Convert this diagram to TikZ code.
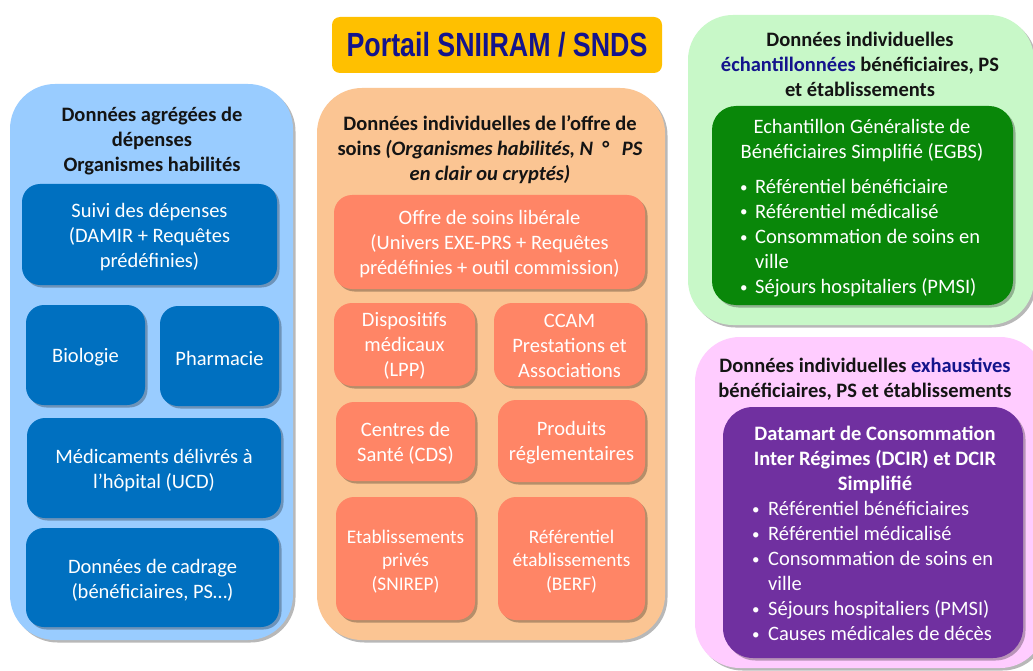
\documentclass[tikz,border=0pt]{standalone}
\usepackage{fontspec}
\setmainfont{Carlito}
\newfontfamily\titlefont[FakeStretch=0.8]{Liberation Sans}
\usetikzlibrary{shadows}
\definecolor{ltblue}{HTML}{99CCFF}
\definecolor{dkblue}{HTML}{0070C0}
\definecolor{ltorange}{HTML}{FBC593}
\definecolor{salmon}{HTML}{FF8566}
\definecolor{ltgreen}{HTML}{C8F8C8}
\definecolor{dkgreen}{HTML}{098709}
\definecolor{ltpink}{HTML}{FFCCFF}
\definecolor{purp}{HTML}{7030A0}
\definecolor{gold}{HTML}{FFC000}
\definecolor{navytxt}{HTML}{14148C}
\definecolor{hdrtxt}{HTML}{141414}
\newcommand{\bul}{\makebox[15pt][l]{\raisebox{1.2pt}{\fontsize{15}{15}\selectfont •}}}
\begin{document}
\begin{tikzpicture}[x=1pt,y=-1pt,
  font=\fontsize{20.5}{25}\selectfont,
  shad/.style={drop shadow={shadow xshift=2.5pt, shadow yshift=-2.5pt, opacity=0.28, fill=black}},
  panelbox/.style={draw=none, inner sep=0pt, rounded corners=45pt, shad},
  innerbox/.style={draw=none, inner sep=0pt, rounded corners=18pt, shad},
  bluebox/.style={innerbox, fill=dkblue},
  salmonbox/.style={innerbox, fill=salmon},
  wtxt/.style={align=center, text=white, inner sep=0pt, yshift=-3pt},
  hdr/.style={align=center, text=hdrtxt, inner sep=0pt, font=\bfseries\fontsize{20.5}{25}\selectfont},
  listtxt/.style={anchor=north west, inner sep=0pt, text=white, align=left}
]
\useasboundingbox[fill=white] (0,0) rectangle (1033,671);

% title
\node[draw=none, fill=gold, rounded corners=8pt, minimum width=330pt, minimum height=56pt, inner sep=0pt,
      text=navytxt, font=\titlefont\bfseries\fontsize{33.5}{36}\selectfont] (title) at (497,45) {Portail SNIIRAM / SNDS};

% ---------- left panel
\node[panelbox, fill=ltblue, minimum width=283pt, minimum height=556pt] (leftp) at (151.5,362) {};
\node[hdr] (lefth) at (152,141) {Données agrégées de\\dépenses\\Organismes habilités};
\node[bluebox, minimum width=255pt, minimum height=101pt] (suivi) at (149.5,234.5) {};
\node[wtxt] (suivit) at (suivi) {Suivi des dépenses\\(DAMIR + Requêtes\\prédéfinies)};
\node[bluebox, minimum width=119pt, minimum height=100pt] (bio) at (85.5,355) {};
\node[wtxt, yshift=1pt] (biot) at (bio) {Biologie};
\node[bluebox, minimum width=119pt, minimum height=100pt] (pharma) at (219.5,356) {};
\node[wtxt, yshift=1pt] (pharmat) at (pharma) {Pharmacie};
\node[bluebox, minimum width=254pt, minimum height=100pt] (medic) at (154,468) {};
\node[wtxt] (medict) at (medic) {Médicaments délivrés à\\l’hôpital (UCD)};
\node[bluebox, minimum width=253pt, minimum height=99pt] (cadrage) at (152.5,577.5) {};
\node[wtxt] (cadraget) at (cadrage) {Données de cadrage\\(bénéficiaires, PS…)};

% ---------- middle panel
\node[panelbox, fill=ltorange, minimum width=348pt, minimum height=552pt] (midp) at (491,364) {};
\node[hdr] (midh) at (490,150) {Données individuelles de l’offre de\\
  \makebox[305pt][s]{soins \textit{(Organismes habilités, N\ \ °\ \ \ PS}}\\
  \textit{en clair ou cryptés)}};
\node[salmonbox, minimum width=311pt, minimum height=94pt] (offre) at (489.5,242) {};
\node[wtxt, yshift=0.5pt] (offret) at (offre) {Offre de soins libérale\\(Univers EXE-PRS + Requêtes\\prédéfinies + outil commission)};
\node[salmonbox, minimum width=141pt, minimum height=83pt] (dispo) at (404.5,344.5) {};
\node[wtxt, yshift=1.5pt] (dispot) at (dispo) {Dispositifs\\médicaux\\(LPP)};
\node[salmonbox, minimum width=151pt, minimum height=83pt] (ccam) at (569.5,344.5) {};
\node[wtxt, yshift=1.5pt] (ccamt) at (ccam) {CCAM\\Prestations et\\Associations};
\node[salmonbox, minimum width=139pt, minimum height=79pt] (cds) at (405.5,441.5) {};
\node[wtxt, yshift=1pt] (cdst) at (cds) {Centres de\\Santé (CDS)};
\node[salmonbox, minimum width=147pt, minimum height=82pt] (prod) at (571.5,441) {};
\node[wtxt, yshift=1pt] (prodt) at (prod) {Produits\\réglementaires};
\node[salmonbox, minimum width=139pt, minimum height=123pt] (etab) at (405.5,558.5) {};
\node[wtxt, font=\fontsize{19.3}{23.5}\selectfont] (etabt) at (etab) {Etablissements\\privés\\(SNIREP)};
\node[salmonbox, minimum width=147pt, minimum height=123pt] (berf) at (571.5,558.5) {};
\node[wtxt, font=\fontsize{19.3}{23.5}\selectfont] (berft) at (berf) {Référentiel\\établissements\\(BERF)};

% ---------- right top panel (green)
\node[panelbox, fill=ltgreen, minimum width=346pt, minimum height=310pt] (greenp) at (861,170) {};
\node[hdr] (greenh) at (860,64) {Données individuelles\\\textcolor{navytxt}{échantillonnées} bénéficiaires, PS\\et établissements};
\node[innerbox, fill=dkgreen, rounded corners=24pt, minimum width=301pt, minimum height=199pt] (egbs) at (862.5,205.5) {};
\node[align=center, text=white, inner sep=0pt] (egbst) at (862,141) {Echantillon Généraliste de\\Bénéficiaires Simplifié (EGBS)};
\node[listtxt] (egbsl) at (740,175.5) {\begin{tabular}{@{}l@{}l@{}}
\bul&Référentiel bénéficiaire\\
\bul&Référentiel médicalisé\\
\bul&Consommation de soins en\\
 &ville\\
\bul&Séjours hospitaliers (PMSI)
\end{tabular}};

% ---------- right bottom panel (pink)
\node[panelbox, fill=ltpink, minimum width=350pt, minimum height=331pt] (pinkp) at (870,502.5) {};
\node[hdr] (pinkh) at (865,379.5) {Données individuelles \textcolor{navytxt}{exhaustives}\\bénéficiaires, PS et établissements};
\node[innerbox, fill=purp, rounded corners=30pt, minimum width=300pt, minimum height=251pt] (dcir) at (873,532.5) {};
\node[align=center, text=white, inner sep=0pt, font=\bfseries\fontsize{20.5}{25}\selectfont] (dcirt) at (875,459.5) {Datamart de Consommation\\Inter Régimes (DCIR) et DCIR\\Simplifié};
\node[listtxt] (dcirl) at (752,498) {\begin{tabular}{@{}l@{\hspace{1pt}}l@{}}
\bul&Référentiel bénéficiaires\\
\bul&Référentiel médicalisé\\
\bul&Consommation de soins en\\
 &ville\\
\bul&Séjours hospitaliers (PMSI)\\
\bul&Causes médicales de décès
\end{tabular}};
\end{tikzpicture}
\end{document}
